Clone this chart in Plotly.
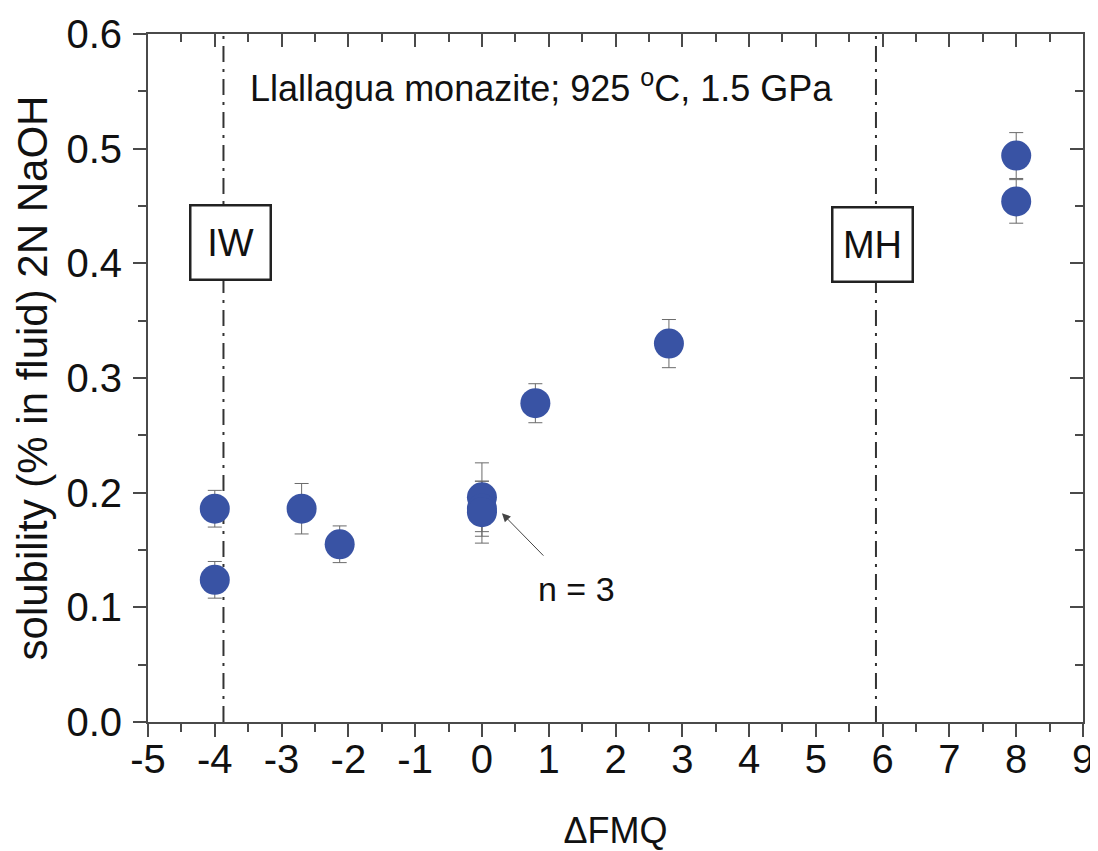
import plotly.graph_objects as go

# ---- data ----
dfmq = [-4.0, -4.0, -2.7, -2.13, 0.0, 0.0, 0.0, 0.8, 2.8, 8.0, 8.0]
solubility = [0.186, 0.124, 0.186, 0.155, 0.196, 0.186, 0.183, 0.278, 0.330, 0.494, 0.454]
sol_err = [0.016, 0.016, 0.022, 0.016, 0.030, 0.024, 0.027, 0.017, 0.021, 0.020, 0.019]

buffer_names = ["IW", "MH"]
buffer_x = [-3.87, 5.9]
buffer_label_x = [-3.76, 5.85]
buffer_label_y = [0.418, 0.416]

x_ticks = list(range(-5, 10))
x_ticktext = [str(v) for v in x_ticks]  # plain hyphen minus signs as in the reference
y_ticks = [0.0, 0.1, 0.2, 0.3, 0.4, 0.5, 0.6]

FONT = "Liberation Sans, Arial, sans-serif"
AX = "#4a4a4a"

fig = go.Figure()
fig.add_trace(go.Scatter(
    x=dfmq, y=solubility, mode="markers",
    marker=dict(size=30, color="#3953A4", line=dict(width=0)),
    error_y=dict(type="data", array=sol_err, color="#6b6b6b", thickness=1, width=7),
    showlegend=False, hoverinfo="x+y",
))
# dummy trace to activate mirrored top/right axes
fig.add_trace(go.Scatter(x=[None], y=[None], xaxis="x2", yaxis="y2",
                         showlegend=False, hoverinfo="skip"))

for bx in buffer_x:
    fig.add_shape(type="line", x0=bx, x1=bx, y0=0, y1=0.6, xref="x", yref="y",
                  line=dict(color="#333333", width=2, dash="16px,7px,3px,7px"), layer="below")

for name, lx, ly in zip(buffer_names, buffer_label_x, buffer_label_y):
    fig.add_annotation(x=lx, y=ly, xref="x", yref="y", text=name, showarrow=False,
                       font=dict(family=FONT, size=38, color="#111111"),
                       bordercolor="#222222", borderwidth=2.5, bgcolor="white",
                       width=76, height=70, xanchor="center", yanchor="middle")

fig.add_annotation(x=-3.5, y=0.555, xref="x", yref="y",
                   text="Llallagua monazite; 925 <sup>o</sup>C, 1.5 GPa",
                   showarrow=False, xanchor="left", yanchor="middle",
                   font=dict(family=FONT, size=36, color="#111111"))

# "n = 3" label with arrow pointing to the triplicate at FMQ = 0
fig.add_annotation(x=0.30, y=0.182, xref="x", yref="y",
                   ax=1.41, ay=0.116, axref="x", ayref="y",
                   text="n = 3", showarrow=True, arrowhead=2, arrowsize=1.7, arrowwidth=1,
                   arrowcolor="#444444", standoff=0, startstandoff=18,
                   font=dict(family=FONT, size=34, color="#111111"))

axis_common = dict(showline=True, linecolor=AX, linewidth=2, showgrid=False, zeroline=False,
                   tickcolor=AX, tickwidth=1.5, automargin=False)

fig.update_layout(
    width=1090, height=843,
    margin=dict(l=140, r=15, t=26, b=129, autoexpand=False),
    paper_bgcolor="white", plot_bgcolor="white",
    font=dict(family=FONT, color="#111111"),
    xaxis=dict(range=[-5, 9], tickmode="array", tickvals=x_ticks, ticktext=x_ticktext,
               ticks="outside", ticklen=13, ticklabelstandoff=-12,
               tickfont=dict(size=40),
               minor=dict(ticks="outside", ticklen=8, dtick=0.5, tickcolor=AX, tickwidth=1.5),
               title=dict(text="ΔFMQ", font=dict(size=36), standoff=40),
               **axis_common),
    yaxis=dict(range=[0, 0.6], tickmode="array", tickvals=y_ticks, tickformat=".1f",
               ticks="outside", ticklen=13, ticklabelstandoff=3,
               tickfont=dict(size=40),
               minor=dict(ticks="outside", ticklen=8, dtick=0.05, tickcolor=AX, tickwidth=1.5),
               title=dict(text="solubility (% in fluid) 2N NaOH", font=dict(size=42), standoff=6),
               **axis_common),
    xaxis2=dict(overlaying="x", side="top", matches="x", range=[-5, 9],
                tickvals=x_ticks, ticks="inside", ticklen=13, showticklabels=False,
                minor=dict(ticks="inside", ticklen=8, dtick=0.5, tickcolor=AX, tickwidth=1.5),
                **axis_common),
    yaxis2=dict(overlaying="y", side="right", matches="y", range=[0, 0.6],
                tickvals=y_ticks, ticks="inside", ticklen=13, showticklabels=False,
                minor=dict(ticks="inside", ticklen=8, dtick=0.05, tickcolor=AX, tickwidth=1.5),
                **axis_common),
)

fig.write_html("out.html")
